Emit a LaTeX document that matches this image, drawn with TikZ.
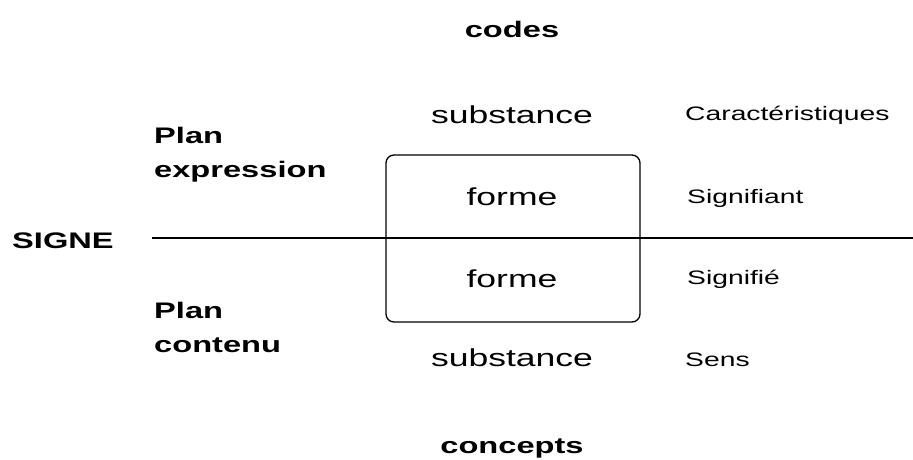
\documentclass[tikz,border=0pt]{standalone}
\usepackage{fontspec}
\setmainfont{Liberation Sans}[FakeStretch=1.45]
\begin{document}
\begin{tikzpicture}[x=1pt,y=-1pt,
  big/.style={inner sep=0pt,font=\fontsize{24.5}{29}\selectfont},
  small/.style={inner sep=0pt,font=\fontsize{19.5}{23}\selectfont},
  heading/.style={inner sep=0pt,font=\fontsize{22.5}{27}\selectfont\bfseries},
  frame/.style={draw,line width=1.3pt,rounded corners=8pt,inner sep=0pt},
  rule/.style={line width=1.3pt}]
\useasboundingbox (0,0) rectangle (913,459);
\node[heading,anchor=base] (codes) at (512,37) {codes};
\node[heading,anchor=base] (concepts) at (512,453) {concepts};
\node[big,anchor=base] (subtop) at (512,123) {substance};
\node[big,anchor=base] (subbot) at (512,366) {substance};
\node[frame,minimum width=254pt,minimum height=167pt] (box) at (513,238.5) {};
\node[big,anchor=base] (formetop) at (512,205) {forme};
\node[big,anchor=base] (formebot) at (512,287) {forme};
\node[small,anchor=base west] (car) at (685,120) {Caractéristiques};
\node[small,anchor=base west] (sfiant) at (687,203) {Signifiant};
\node[small,anchor=base west] (sfie) at (687,284) {Signifié};
\node[small,anchor=base west] (sens) at (685,366) {Sens};
\node[heading,anchor=base west] (signe) at (12,248) {SIGNE};
\node[heading,anchor=base west] (planexp) at (154,143) {Plan};
\node[heading,anchor=base west] (expr) at (154,177) {expression};
\node[heading,anchor=base west] (plancont) at (154,318) {Plan};
\node[heading,anchor=base west] (cont) at (154,352) {contenu};
\coordinate (ls) at (152,238);
\coordinate (le) at (913,238);
\draw[rule] (ls) -- (le);
\end{tikzpicture}
\end{document}
